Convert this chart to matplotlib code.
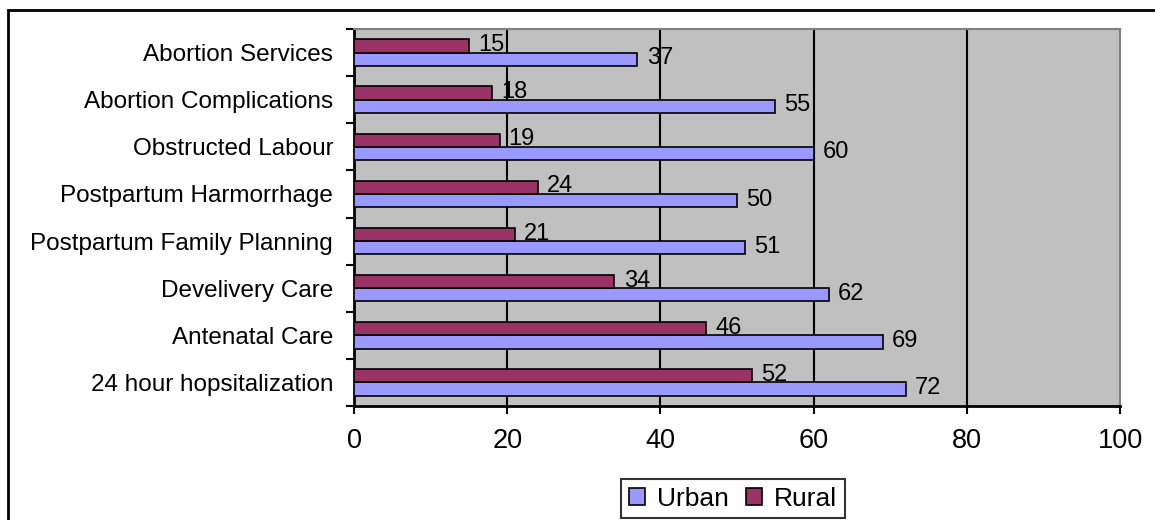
import matplotlib.pyplot as plt
import matplotlib.patches as mpatches
import numpy as np

plt.rcParams['font.family'] = ['Liberation Sans', 'DejaVu Sans']

categories = ['24 hour hopsitalization', 'Antenatal Care', 'Develivery Care',
              'Postpartum Family Planning', 'Postpartum Harmorrhage',
              'Obstructed Labour', 'Abortion Complications', 'Abortion Services']
urban = [72, 69, 62, 51, 50, 60, 55, 37]
rural = [52, 46, 34, 21, 24, 19, 18, 15]
x_ticks = [0, 20, 40, 60, 80, 100]

urban_color = '#9999FF'
rural_color = '#993366'
fs_cat = 17.5
fs_val = 17
fs_x = 19.5
fs_leg = 19

fig = plt.figure(figsize=(11.55, 5.2), dpi=100)
ax = fig.add_axes([354 / 1155, 1 - 406 / 520, (1120 - 354) / 1155, (406 - 29) / 520])
ax.set_facecolor('#C0C0C0')

pos = np.arange(len(categories))
h = 0.28
bu = ax.barh(pos - h / 2, urban, height=h, color=urban_color, edgecolor='black',
             linewidth=1.2, label='Urban', zorder=3)
br = ax.barh(pos + h / 2, rural, height=h, color=rural_color, edgecolor='black',
             linewidth=1.2, label='Rural', zorder=3)

for bars, vals in ((bu, urban), (br, rural)):
    for b, v in zip(bars, vals):
        ax.text(v + 1.2, b.get_y() + b.get_height() / 2 + 0.02, str(v), va='center',
                ha='left', fontsize=fs_val, zorder=4)

ax.set_xlim(0, 100)
ax.set_ylim(-0.5, len(categories) - 0.5)
ax.set_xticks(x_ticks)
ax.set_xticklabels([str(t) for t in x_ticks], fontsize=fs_x)
ax.tick_params(axis='x', length=6, width=1.5, direction='out', pad=10)

# category labels between the boundary ticks
ax.set_yticks(np.arange(len(categories) + 1) - 0.5)
ax.set_yticklabels([])
ax.set_yticks(pos, minor=True)
ax.set_yticklabels(categories, minor=True, fontsize=fs_cat)
ax.tick_params(axis='y', which='major', length=6, width=1.5, direction='out')
ax.tick_params(axis='y', which='minor', length=0, pad=15)

for t in x_ticks[1:-1]:
    ax.axvline(t, color='black', linewidth=1.5, zorder=1)

ax.spines['left'].set_linewidth(2)
ax.spines['bottom'].set_linewidth(2)
ax.spines['top'].set_color('#808080')
ax.spines['right'].set_color('#808080')
ax.spines['top'].set_linewidth(1.5)
ax.spines['right'].set_linewidth(1.5)

leg = fig.legend(handles=[bu, br], labels=['Urban', 'Rural'], loc='center',
                 bbox_to_anchor=(733 / 1155, 1 - 498.5 / 520), ncol=2, fontsize=fs_leg,
                 frameon=True, fancybox=False, edgecolor='black',
                 handlelength=0.6, handleheight=0.6, handletextpad=0.45,
                 columnspacing=0.65, borderpad=0.3, borderaxespad=0)
leg.get_frame().set_linewidth(1.5)

# outer chart border
fig.patches.append(mpatches.Rectangle((8 / 1155, -0.1), 1.2, 1 - 10 / 520 + 0.1,
                                      transform=fig.transFigure, fill=False,
                                      edgecolor='black', linewidth=2))

fig.savefig('out.png', dpi=100)
